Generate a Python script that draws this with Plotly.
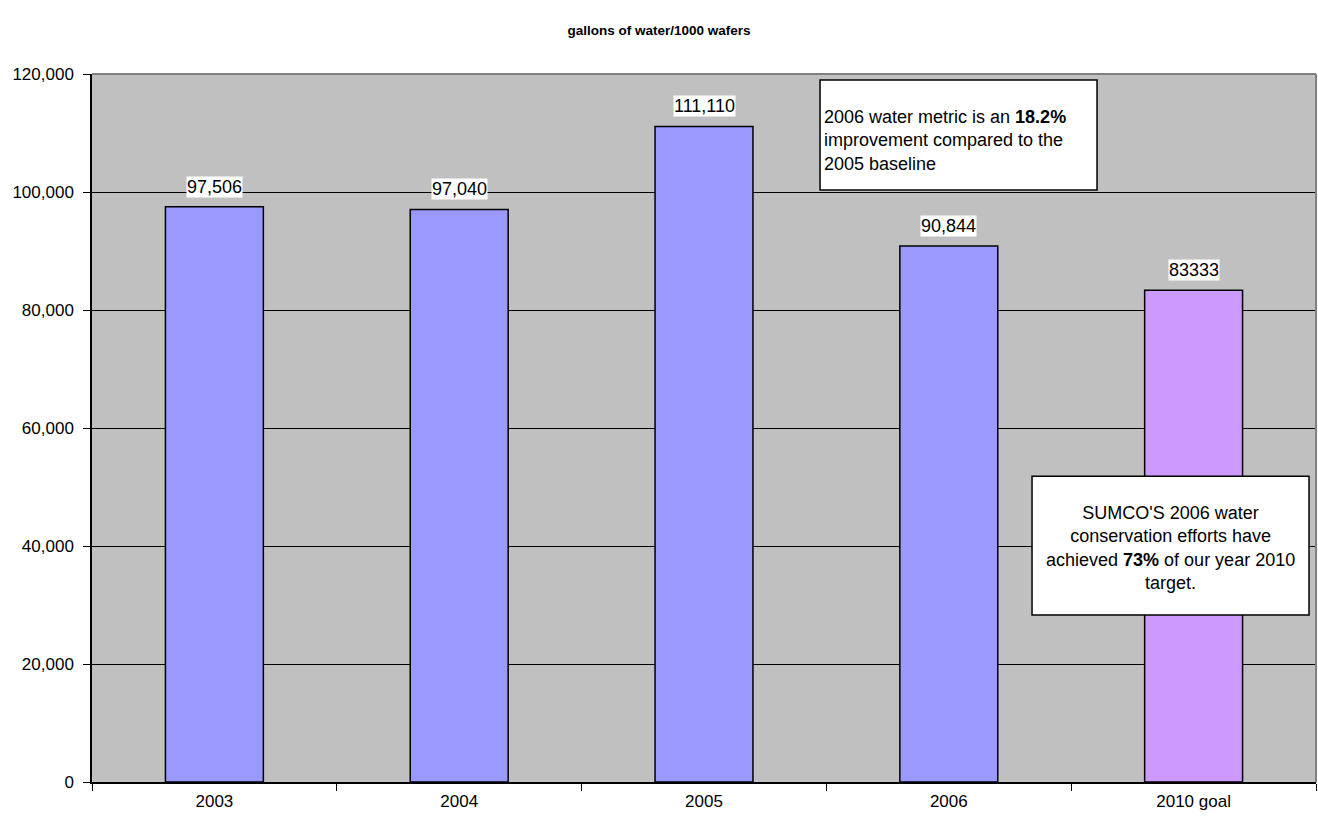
import plotly.graph_objects as go

categories = ["2003", "2004", "2005", "2006", "2010 goal"]
values = [97506, 97040, 111110, 90844, 83333]
value_labels = ["97,506", "97,040", "111,110", "90,844", "83333"]
bar_colors = ["#9999FF", "#9999FF", "#9999FF", "#9999FF", "#CC99FF"]
y_ticks = [0, 20000, 40000, 60000, 80000, 100000, 120000]
y_tick_labels = ["0", "20,000", "40,000", "60,000", "80,000", "100,000", "120,000"]

FONT = "Liberation Sans, Arial, sans-serif"

fig = go.Figure()
fig.add_trace(go.Bar(
    x=categories, y=values,
    marker=dict(color=bar_colors, line=dict(color="black", width=1.5)),
    width=0.4,
    hoverinfo="skip",
))

for i, (v, lab) in enumerate(zip(values, value_labels)):
    fig.add_annotation(x=i, y=v, text=lab, showarrow=False, yanchor="bottom",
                       yshift=9, bgcolor="white", borderpad=0,
                       font=dict(family=FONT, size=18, color="black"))

# text boxes (white rectangles + text)
fig.add_shape(type="rect", xref="paper", yref="paper",
              x0=0.5948, x1=0.8211, y0=0.8362, y1=0.9915, layer="above",
              fillcolor="white", line=dict(color="black", width=1.5))
fig.add_annotation(
    xref="paper", yref="paper", x=0.5964, y=0.9054, xanchor="left", yanchor="middle",
    text="2006 water metric is an <b>18.2%</b><br>improvement compared to the<br>2005 baseline",
    align="left", showarrow=False,
    font=dict(family=FONT, size=18, color="black"))

fig.add_shape(type="rect", xref="paper", yref="paper",
              x0=0.768, x1=0.9943, y0=0.2359, y1=0.432, layer="above",
              fillcolor="white", line=dict(color="black", width=1.5))
fig.add_annotation(
    xref="paper", yref="paper", x=0.8811, y=0.3305, xanchor="center", yanchor="middle",
    text="SUMCO'S 2006 water<br>conservation efforts have<br>achieved <b>73%</b> of our year 2010<br>target.",
    align="center", showarrow=False,
    font=dict(family=FONT, size=18, color="black"))

fig.update_layout(
    width=1318, height=821,
    margin=dict(l=92, r=2, t=74, b=39),
    paper_bgcolor="white", plot_bgcolor="#C0C0C0",
    showlegend=False,
    title=dict(text="<b>gallons of water/1000 wafers</b>", x=0.5, xref="container",
               xanchor="center", y=0.963, yanchor="middle",
               font=dict(family=FONT, size=13.5, color="black")),
    font=dict(family=FONT, size=17, color="black"),
)
fig.update_xaxes(
    type="category", range=[-0.5, 4.5], tickson="boundaries", ticks="outside",
    ticklen=7, tickcolor="black", showline=True, linecolor="black", linewidth=1.5,
    mirror=False, showgrid=False, tickfont=dict(size=17), fixedrange=True,
    tickangle=0, ticklabelstandoff=3,
)
fig.update_yaxes(
    range=[0, 120000], tickvals=y_ticks, ticktext=y_tick_labels,
    ticks="outside", ticklen=7, tickcolor="black", showline=True,
    linecolor="black", linewidth=1.5, showgrid=True, gridcolor="black",
    gridwidth=1, zeroline=False, tickfont=dict(size=17), fixedrange=True,
    ticklabelstandoff=6,
)
# gray top/right frame of the plot area
fig.add_shape(type="line", xref="paper", yref="paper", x0=0, x1=1, y0=1, y1=1,
              line=dict(color="#808080", width=2))
fig.add_shape(type="line", xref="paper", yref="paper", x0=1, x1=1, y0=0, y1=1,
              line=dict(color="#808080", width=2))

fig.write_html("out.html", config={"displayModeBar": False},
               post_script="document.body.style.margin='0';")
